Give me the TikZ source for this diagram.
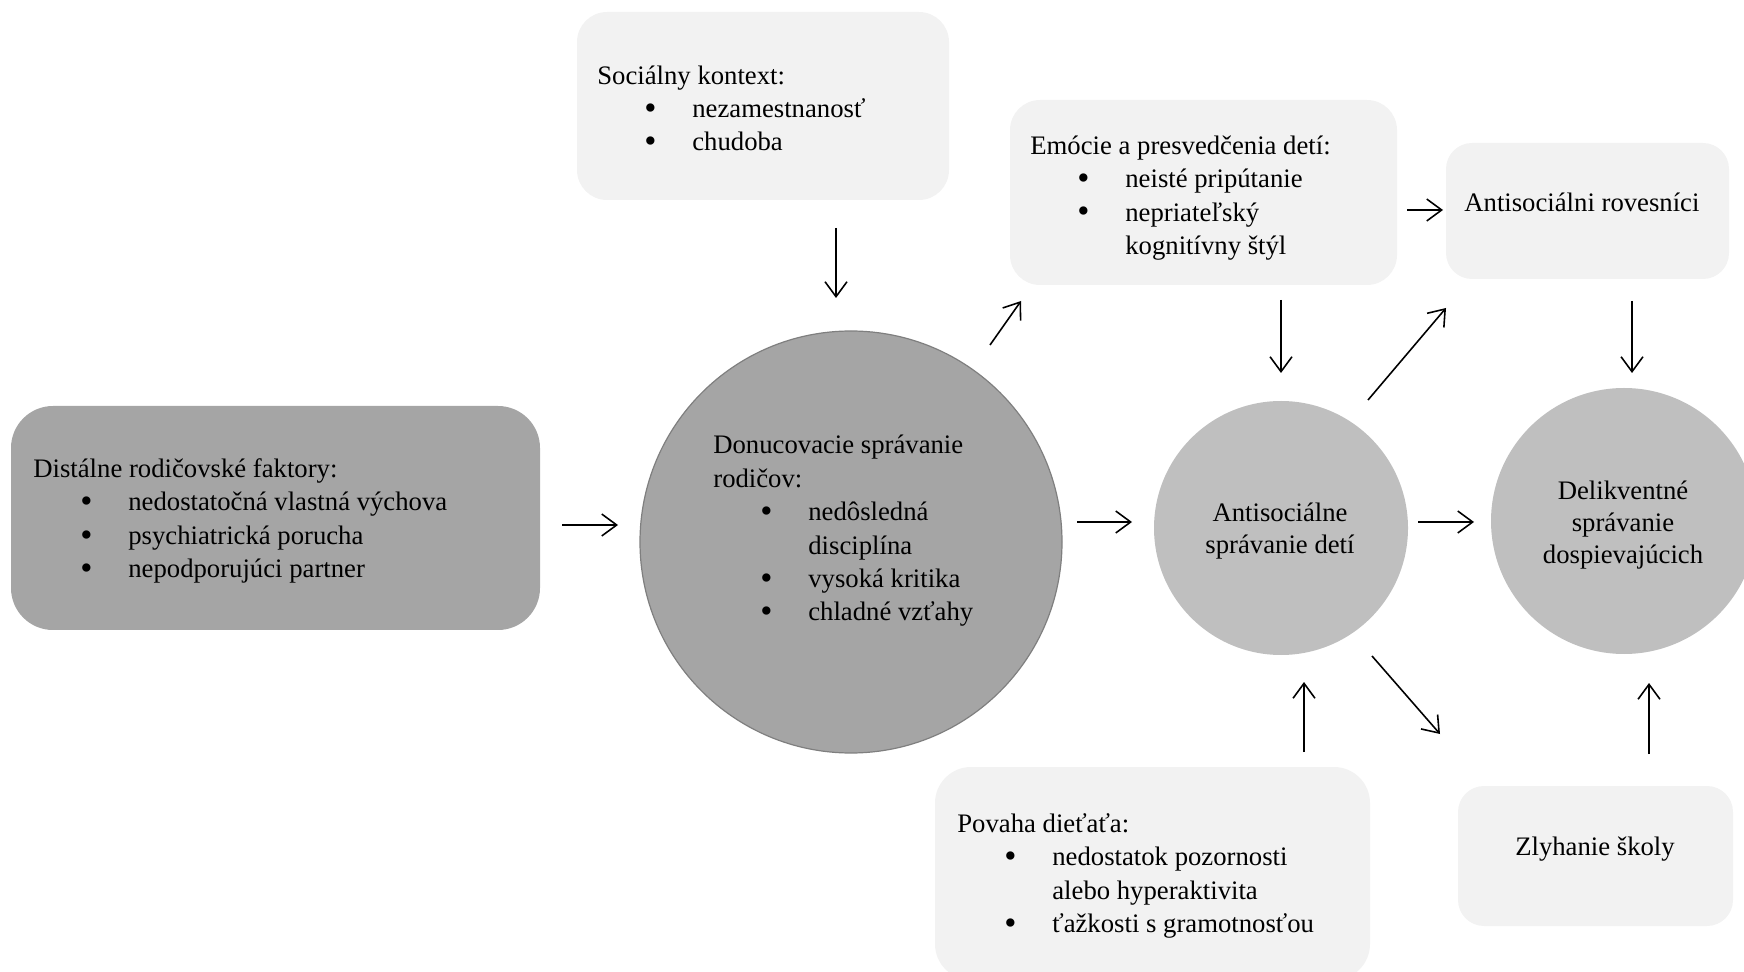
\documentclass[tikz,border=0pt]{standalone}
\usepackage{fontspec}
\usepackage{graphicx}
\setmainfont{Liberation Serif}
\usetikzlibrary{arrows.meta}
\newlength\px \setlength\px{0.02cm}
\definecolor{darkg}{HTML}{A5A5A5}
\definecolor{midg}{HTML}{BFBFBF}
\definecolor{lightg}{HTML}{F2F2F2}
\definecolor{edgeg}{HTML}{7F7F7F}
\newcommand{\bitem}[1]{\hspace*{53\px}\makebox[0pt]{\raisebox{-1pt}{\scalebox{1.3}{\textbullet}}}\hspace*{42\px}#1}
\newcommand{\bcont}[1]{\hspace*{95\px}#1}
\begin{document}
\begin{tikzpicture}[x=0.02cm,y=-0.02cm,
  lbox/.style={rectangle,draw=none,fill=lightg,rounded corners=30\px,inner sep=0pt},
  dbox/.style={rectangle,draw=none,fill=darkg,rounded corners=42\px,inner sep=0pt},
  dcirc/.style={circle,fill=darkg,draw=edgeg,line width=1.2\px,inner sep=0pt},
  mcirc/.style={circle,fill=midg,draw=none,inner sep=0pt},
  txt/.style={inner sep=0pt,align=left,font=\fontsize{15.2}{19}\selectfont},
  ctxt/.style={inner sep=0pt,align=center,font=\fontsize{15.2}{18}\selectfont},
  arr/.style={-{Straight Barb[length=8.5pt,width=12.5pt]},line width=0.9pt,black}]
\useasboundingbox (0,0) rectangle (1744,972);

% shapes
\node[dbox,minimum width=529\px,minimum height=224\px] (distal) at (275.5,518) {};
\node[lbox,minimum width=372\px,minimum height=188\px] (social) at (763,106) {};
\node[dcirc,minimum size=422\px] (donuc) at (851,542) {};
\node[lbox,minimum width=387\px,minimum height=185\px] (emocie) at (1203.5,192.5) {};
\node[lbox,minimum width=283\px,minimum height=136\px,rounded corners=26\px] (roves) at (1587.5,211) {};
\node[mcirc,minimum size=254\px] (child) at (1281,528) {};
\node[mcirc,minimum size=266\px] (delik) at (1624,521) {};
\node[lbox,minimum width=435\px,minimum height=213\px,rounded corners=36\px] (povaha) at (1152.5,873.5) {};
\node[lbox,minimum width=275\px,minimum height=140\px,rounded corners=26\px] (zlyh) at (1595.5,856) {};

% texts
\node[txt,anchor=west] (distalt) at (33,521) {Distálne rodičovské faktory:\\\bitem{nedostatočná vlastná výchova}\\\bitem{psychiatrická porucha}\\\bitem{nepodporujúci partner}};
\node[txt,anchor=west] (socialt) at (597,109) {Sociálny kontext:\\\bitem{nezamestnanosť}\\\bitem{chudoba}};
\node[txt,anchor=west] (donuct) at (713,531) {Donucovacie správanie\\rodičov:\\\bitem{nedôsledná}\\\bcont{disciplína}\\\bitem{vysoká kritika}\\\bitem{chladné vzťahy}};
\node[txt,anchor=west] (emociet) at (1030,198) {Emócie a presvedčenia detí:\\\bitem{neisté pripútanie}\\\bitem{nepriateľský}\\\bcont{kognitívny štýl}};
\node[txt,anchor=west] (rovest) at (1464,202) {Antisociálni rovesníci};
\node[ctxt] (childt) at (1280,531) {Antisociálne\\správanie detí};
\node[ctxt] (delikt) at (1623,525) {Delikventné\\správanie\\dospievajúcich};
\node[txt,anchor=west] (povahat) at (957,876) {Povaha dieťaťa:\\\bitem{nedostatok pozornosti}\\\bcont{alebo hyperaktivita}\\\bitem{ťažkosti s gramotnosťou}};
\node[ctxt] (zlyht) at (1595,849) {Zlyhanie školy};

% arrow end points
\coordinate (a1s) at (562,525);  \coordinate (a1e) at (618,525);
\coordinate (a2s) at (836,228);  \coordinate (a2e) at (836,298);
\coordinate (a3s) at (990,345);  \coordinate (a3e) at (1021,301);
\coordinate (a4s) at (1077,522); \coordinate (a4e) at (1132,522);
\coordinate (a5s) at (1407,210); \coordinate (a5e) at (1443,210);
\coordinate (a6s) at (1281,300); \coordinate (a6e) at (1281,373);
\coordinate (a7s) at (1368,400); \coordinate (a7e) at (1446,308);
\coordinate (a8s) at (1632,301); \coordinate (a8e) at (1632,373);
\coordinate (a9s) at (1418,522); \coordinate (a9e) at (1474,522);
\coordinate (a10s) at (1372,656); \coordinate (a10e) at (1440,734);
\coordinate (a11s) at (1304,752); \coordinate (a11e) at (1304,682);
\coordinate (a12s) at (1649,754); \coordinate (a12e) at (1649,683);

\draw[arr] (a1s) -- (a1e);
\draw[arr] (a2s) -- (a2e);
\draw[arr] (a3s) -- (a3e);
\draw[arr] (a4s) -- (a4e);
\draw[arr] (a5s) -- (a5e);
\draw[arr] (a6s) -- (a6e);
\draw[arr] (a7s) -- (a7e);
\draw[arr] (a8s) -- (a8e);
\draw[arr] (a9s) -- (a9e);
\draw[arr] (a10s) -- (a10e);
\draw[arr] (a11s) -- (a11e);
\draw[arr] (a12s) -- (a12e);
\end{tikzpicture}
\end{document}
